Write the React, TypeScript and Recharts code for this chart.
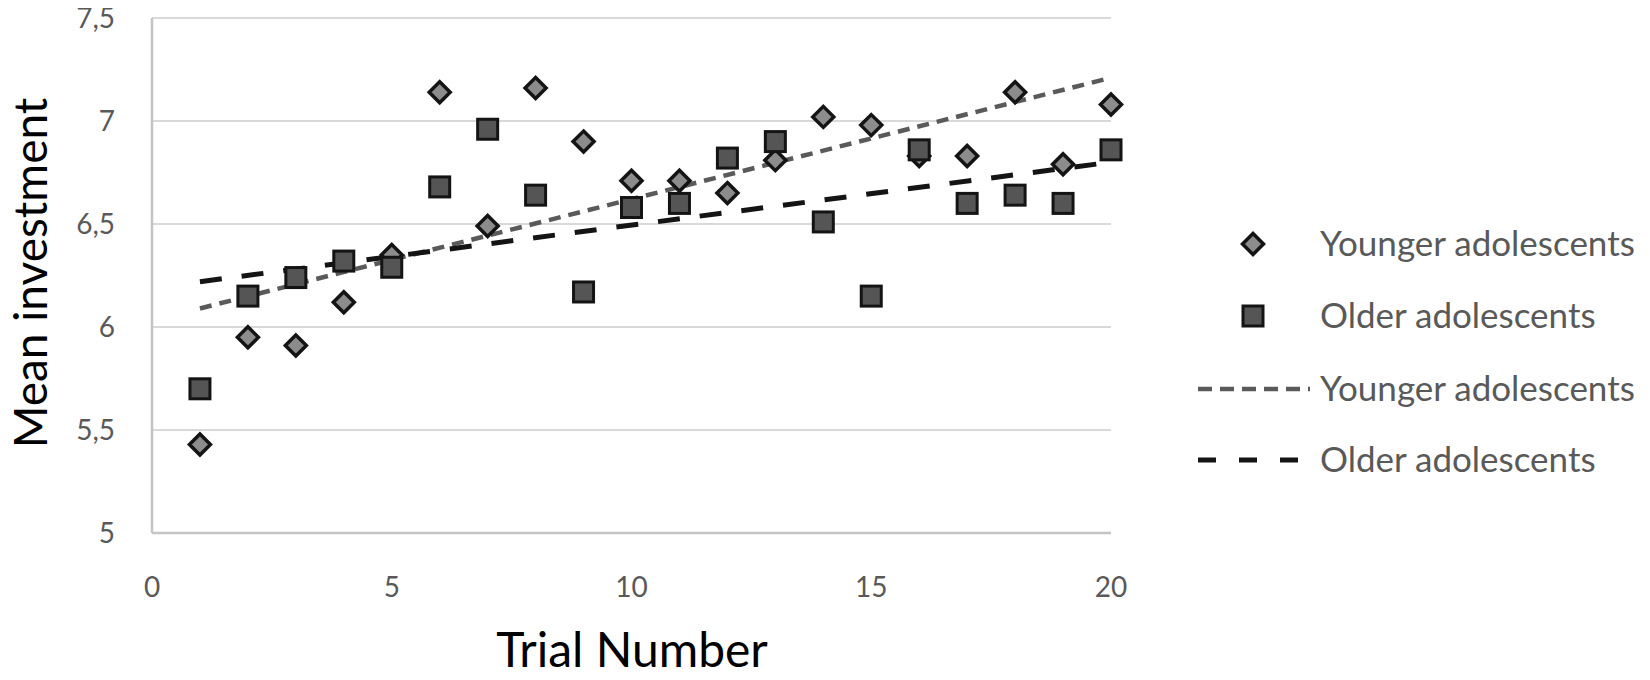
import React from 'react';
import { ComposedChart, Scatter, Line, XAxis, YAxis, CartesianGrid, Label } from 'recharts';

const trials = [1, 2, 3, 4, 5, 6, 7, 8, 9, 10, 11, 12, 13, 14, 15, 16, 17, 18, 19, 20];
const younger = [5.43, 5.95, 5.91, 6.12, 6.35, 7.14, 6.49, 7.16, 6.9, 6.71, 6.71, 6.65, 6.81, 7.02, 6.98, 6.83, 6.83, 7.14, 6.79, 7.08];
const older = [5.7, 6.15, 6.24, 6.32, 6.29, 6.68, 6.96, 6.64, 6.17, 6.58, 6.6, 6.82, 6.9, 6.51, 6.15, 6.86, 6.6, 6.64, 6.6, 6.86];
const trendX = [1, 20];
const youngerTrend = [6.09, 7.21];
const olderTrend = [6.22, 6.8];
const xTicks = [0, 5, 10, 15, 20];
const yTicks = [5, 5.5, 6, 6.5, 7, 7.5];
const seriesNames = ['Younger adolescents', 'Older adolescents'];

const youngerPoints = trials.map((t, i) => ({ x: t, y: younger[i] }));
const olderPoints = trials.map((t, i) => ({ x: t, y: older[i] }));
const youngerTrendData = trendX.map((t, i) => ({ x: t, y: youngerTrend[i] }));
const olderTrendData = trendX.map((t, i) => ({ x: t, y: olderTrend[i] }));

const FONT = 'Lato, "Open Sans", sans-serif';
const TEXT_GRAY = '#595959';
const W = 1650;
const H = 680;

const Diamond = (p: any) => {
  const { cx, cy } = p;
  const r = 10.5;
  return (
    <polygon
      points={`${cx},${cy - r} ${cx + r},${cy} ${cx},${cy + r} ${cx - r},${cy}`}
      fill="#8c8c8c"
      stroke="#141414"
      strokeWidth={3.5}
    />
  );
};

const Square = (p: any) => {
  const { cx, cy } = p;
  const s = 20;
  return <rect x={cx - s / 2} y={cy - s / 2} width={s} height={s} fill="#555555" stroke="#141414" strokeWidth={3} />;
};

const YTick = (p: any) => (
  <text x={p.x - 37} y={p.y + 10} textAnchor="end" fontFamily={FONT} fontSize={28} fill={TEXT_GRAY}>
    {String(p.payload.value).replace('.', ',')}
  </text>
);

const XTick = (p: any) => (
  <text x={p.x} y={p.y + 64} textAnchor="middle" fontFamily={FONT} fontSize={28} fill={TEXT_GRAY}>
    {String(p.payload.value)}
  </text>
);

const YTitle = () => (
  <text x={47} y={273} transform="rotate(-90 47 273)" textAnchor="middle" fontFamily={FONT} fontSize={46} fill="#000">
    Mean investment
  </text>
);

const XTitle = () => (
  <text x={632} y={667} textAnchor="middle" fontFamily={FONT} fontSize={48} fill="#000">
    Trial Number
  </text>
);

const LegendOverlay = () => {
  const iconX = 1253;
  const textX = 1320;
  const rows = [244, 316, 389, 460];
  const r = 10.5;
  return (
    <svg width={W} height={H} style={{ position: 'absolute', left: 0, top: 0, pointerEvents: 'none' }}>
      <polygon
        points={`${iconX},${rows[0] - r} ${iconX + r},${rows[0]} ${iconX},${rows[0] + r} ${iconX - r},${rows[0]}`}
        fill="#8c8c8c"
        stroke="#141414"
        strokeWidth={3.5}
      />
      <rect x={iconX - 10} y={rows[1] - 10} width={20} height={20} fill="#555555" stroke="#141414" strokeWidth={3} />
      <line x1={1198} x2={1310} y1={rows[2]} y2={rows[2]} stroke="#5a5a5a" strokeWidth={4.5} strokeDasharray="14 8" />
      <line x1={1198} x2={1310} y1={rows[3]} y2={rows[3]} stroke="#141414" strokeWidth={5} strokeDasharray="18 23" />
      {[seriesNames[0], seriesNames[1], seriesNames[0], seriesNames[1]].map((n, i) => (
        <text key={i} x={textX} y={rows[i] + 12} fontFamily={FONT} fontSize={35} fill={TEXT_GRAY}>
          {n}
        </text>
      ))}
    </svg>
  );
};

export default function App() {
  return (
    <div style={{ position: 'relative', width: W, height: H, margin: '-8px 0 0 -8px', background: '#fff' }}>
      <ComposedChart width={W} height={H} margin={{ top: 18, right: 539, bottom: 0, left: 0 }}>
        <CartesianGrid vertical={false} stroke="#d9d9d9" strokeWidth={2} />
        <XAxis
          type="number"
          dataKey="x"
          domain={[0, 20]}
          ticks={xTicks}
          height={147}
          tickLine={false}
          tickSize={0}
          tickMargin={0}
          axisLine={{ stroke: '#c4c4c4', strokeWidth: 2.5 }}
          tick={<XTick />}
        >
          <Label content={<XTitle />} />
        </XAxis>
        <YAxis
          type="number"
          dataKey="y"
          domain={[5, 7.5]}
          ticks={yTicks}
          width={152}
          tickLine={false}
          tickSize={0}
          tickMargin={0}
          axisLine={{ stroke: '#c4c4c4', strokeWidth: 2.5 }}
          tick={<YTick />}
        >
          <Label content={<YTitle />} />
        </YAxis>
        <Scatter name={seriesNames[0]} data={youngerPoints} shape={<Diamond />} isAnimationActive={false} />
        <Scatter name={seriesNames[1]} data={olderPoints} shape={<Square />} isAnimationActive={false} />
        <Line
          data={youngerTrendData}
          dataKey="y"
          stroke="#5a5a5a"
          strokeWidth={4.5}
          strokeDasharray="12 8"
          dot={false}
          activeDot={false}
          legendType="none"
          isAnimationActive={false}
        />
        <Line
          data={olderTrendData}
          dataKey="y"
          stroke="#141414"
          strokeWidth={5}
          strokeDasharray="22 20"
          dot={false}
          activeDot={false}
          legendType="none"
          isAnimationActive={false}
        />
      </ComposedChart>
      <LegendOverlay />
    </div>
  );
}
